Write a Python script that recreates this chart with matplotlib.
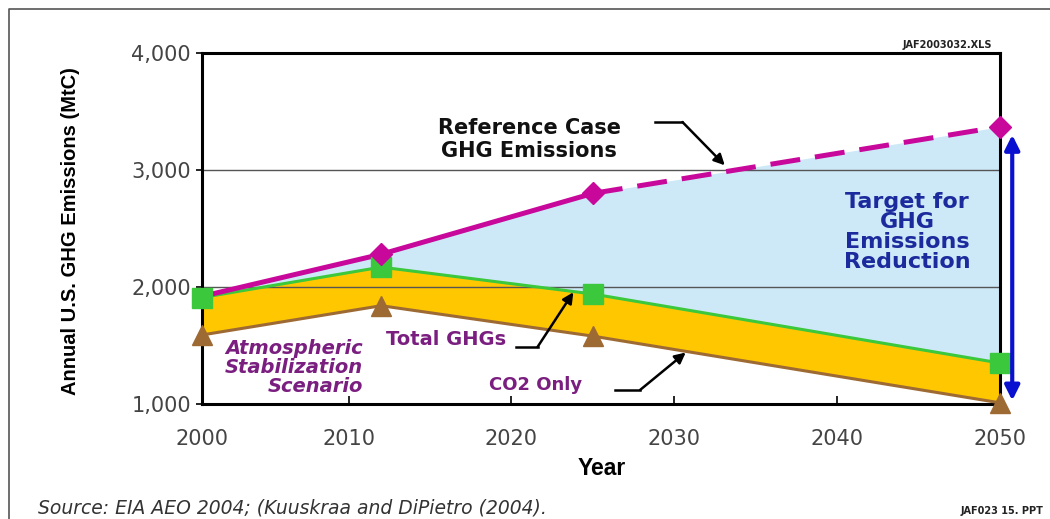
import matplotlib
matplotlib.use("Agg")
import matplotlib.pyplot as plt
from matplotlib.lines import Line2D
from matplotlib.ticker import FuncFormatter

# Emission pathways (MtC)
years = [2001, 2012, 2025, 2050]
reference_case = [1920, 2280, 2800, 3370]
total_ghgs = [1910, 2170, 1940, 1350]
co2_only = [1590, 1840, 1580, 1010]

x_ticks = [2001, 2010, 2020, 2030, 2040, 2050]
x_tick_labels = ["2000", "2010", "2020", "2030", "2040", "2050"]
y_ticks = [1000, 2000, 3000, 4000]

MAGENTA = "#C8079B"
GREEN = "#3CC83C"
BROWN = "#9E6A33"
GOLD = "#FFC700"
SKY = "#CDE9F8"
PURPLE = "#7A1E80"
NAVY = "#1B2A9C"

fig = plt.figure(figsize=(10.5, 5.19), dpi=100)
ax = fig.add_axes([0.1924, 0.2216, 0.76, 0.6763])

# shaded bands
ax.fill_between(years, total_ghgs, reference_case, color=SKY, lw=0, zorder=1)
ax.fill_between(years, co2_only, total_ghgs, color=GOLD, lw=0, zorder=1)

# horizontal gridlines
for gy in (2000, 3000):
    ax.axhline(gy, color="#555555", lw=1.0, zorder=1.5)

# lines
ax.plot(years, co2_only, color=BROWN, lw=2.2, zorder=3)
ax.plot(years, total_ghgs, color=GREEN, lw=2.2, zorder=3.1)
ax.plot(years[:3], reference_case[:3], color=MAGENTA, lw=3.6, zorder=3.2,
        solid_capstyle="butt")
ax.plot(years[2:], reference_case[2:], color=MAGENTA, lw=3.6, zorder=3.2,
        dashes=(6, 3), dash_capstyle="butt")

# markers
ax.plot(years, co2_only, ls="none", marker="^", ms=14, color=BROWN,
        zorder=5, clip_on=False)
ax.plot(years, total_ghgs, ls="none", marker="s", ms=14, color=GREEN,
        zorder=5.1, clip_on=False)
ax.plot(years[1:], reference_case[1:], ls="none", marker="D", ms=11,
        color=MAGENTA, zorder=5.2, clip_on=False)

ax.set_xlim(2001, 2050)
ax.set_ylim(1000, 4000)

for s in ax.spines.values():
    s.set_linewidth(2.2)
    s.set_color("black")

ax.set_xticks(x_ticks, labels=x_tick_labels)
ax.set_yticks(y_ticks)
ax.yaxis.set_major_formatter(FuncFormatter(lambda v, p: f"{int(v):,}"))
ax.tick_params(axis="x", direction="in", length=6, width=1.2, pad=18,
               labelsize=15, labelcolor="#444444")
ax.tick_params(axis="y", direction="out", length=4, width=1.2, pad=4,
               labelsize=15, labelcolor="#444444")

ax.set_ylabel("Annual U.S. GHG Emissions (MtC)",
              family=["Liberation Sans Narrow", "Liberation Sans"],
              fontweight="bold", fontsize=14.5)
ax.yaxis.set_label_coords(-0.153, 0.493)
ax.set_xlabel("Year", family=["Liberation Sans Narrow", "Liberation Sans"],
              fontweight="bold", fontsize=16.5)
ax.xaxis.set_label_coords(0.501, -0.15)

# callouts
ax.text(2021.1, 3262, "Reference Case\nGHG Emissions", ha="center",
        va="center", fontsize=15, fontweight="bold", color="#111111",
        linespacing=1.2, zorder=6)
ax.plot([2028.8, 2030.5], [3410, 3410], color="black", lw=1.8, zorder=6)
ax.annotate("", xy=(2033.1, 3040), xytext=(2030.5, 3410),
            arrowprops=dict(arrowstyle="-|>", color="black", lw=1.8,
                            mutation_scale=16, shrinkA=0, shrinkB=0),
            zorder=6)

ax.text(2016.0, 1547, "Total GHGs", ha="center", va="center", fontsize=14,
        fontweight="bold", color=PURPLE, zorder=6)
ax.plot([2020.3, 2021.6], [1487, 1487], color="black", lw=1.8, zorder=6)
ax.annotate("", xy=(2023.8, 1955), xytext=(2021.6, 1487),
            arrowprops=dict(arrowstyle="-|>", color="black", lw=1.8,
                            mutation_scale=16, shrinkA=0, shrinkB=0),
            zorder=6)

ax.text(2021.5, 1162, "CO2 Only", ha="center", va="center", fontsize=13,
        fontweight="bold", color=PURPLE, zorder=6)
ax.plot([2026.35, 2027.9], [1120, 1120], color="black", lw=1.8, zorder=6)
ax.annotate("", xy=(2030.7, 1440), xytext=(2027.9, 1120),
            arrowprops=dict(arrowstyle="-|>", color="black", lw=1.8,
                            mutation_scale=16, shrinkA=0, shrinkB=0),
            zorder=6)

ax.text(2010.9, 1316, "Atmospheric\nStabilization\nScenario", ha="right",
        va="center", multialignment="right", fontsize=14,
        fontweight="bold", fontstyle="italic", color=PURPLE,
        linespacing=1.0, zorder=6)

ax.text(2044.3, 2470, "Target for\nGHG\nEmissions\nReduction", ha="center",
        va="center", fontsize=16, fontweight="bold", color=NAVY,
        linespacing=1.0, zorder=6)

ax.annotate("", xy=(2050.75, 1030), xytext=(2050.75, 3300),
            arrowprops=dict(arrowstyle="<|-|>", color="#0A10D0", lw=3,
                            mutation_scale=22, shrinkA=0, shrinkB=0),
            annotation_clip=False, zorder=6)

# file tags and source note
fig.text(992 / 1050, 1 - 45 / 519, "JAF2003032.XLS", ha="right",
         va="center", fontsize=7, fontweight="bold", color="#222222")
fig.text(1043 / 1050, 1 - 511 / 519, "JAF023 15. PPT", ha="right",
         va="center", fontsize=7, fontweight="bold", color="#222222")
fig.text(38 / 1050, 1 - 508 / 519,
         "Source: EIA AEO 2004; (Kuuskraa and DiPietro (2004).",
         ha="left", va="center", fontsize=13.5, fontstyle="italic",
         color="#333333")

# outer frame
fig.add_artist(Line2D([9 / 1050, 9 / 1050, 1.0], [0.0, 1 - 9 / 519, 1 - 9 / 519],
                      transform=fig.transFigure, color="#555555", lw=1.2))

fig.savefig("out.png", dpi=100)
